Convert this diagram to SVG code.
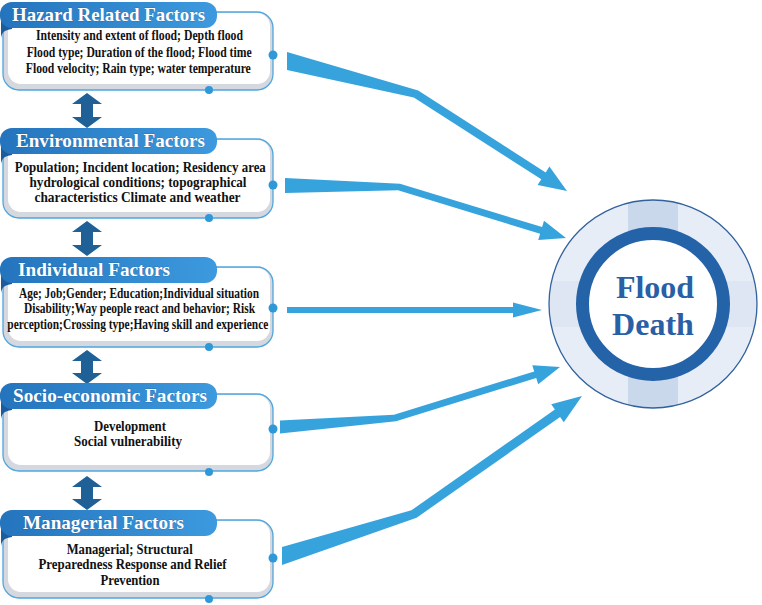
<svg xmlns="http://www.w3.org/2000/svg" width="762" height="605" viewBox="0 0 762 605">
<style>
.border{fill:#d6d8e0;stroke:#4ea6de;stroke-width:1.3}
.inner{fill:#ffffff}
.tab{fill:url(#tabGrad)}
.curl{fill:#1b5c9c}
.title{font-family:"Liberation Serif","Times New Roman",serif;font-weight:bold;font-size:19.5px;fill:#ffffff;stroke:#1d5a92;stroke-width:0.4;paint-order:stroke}
.body{font-family:"Liberation Serif","Times New Roman",serif;font-weight:bold;font-size:13.6px;fill:#111111;text-anchor:middle}
.dot{fill:#2f98d8}
.conn{fill:#37a3dd}
.dbl{fill:#1f6197}
.center{font-family:"Liberation Serif","Times New Roman",serif;font-weight:bold;font-size:32px;fill:#2a5fa5;text-anchor:middle}
</style>
<defs>
<linearGradient id="tabGrad" x1="0" y1="0" x2="1" y2="0">
<stop offset="0" stop-color="#2474bd"/>
<stop offset="1" stop-color="#3d9ade"/>
</linearGradient>
<clipPath id="ringClip"><circle cx="653" cy="304" r="104"/></clipPath>
</defs>
<rect width="762" height="605" fill="#ffffff"/>

<g id="connectors">
<polygon class="conn" points="287,52 418.2,90.6 545.7,172.5 549.4,166.6 567,191 537.6,185.1 541.3,179.3 413.8,97.4 287,70"/>
<polygon class="conn" points="285,178 400,183.7 542.1,227.1 544,220.8 566,238 538.2,240 540.1,233.7 398,190.3 285,193"/>
<polygon class="conn" points="287,307 513,307 513,302.5 542,310 513,317.5 513,313 287,313"/>
<polygon class="conn" points="280,420.5 394,414.7 534.2,371.4 532.3,365.2 560,367 538.2,384.2 536.2,378 396,421.3 280,433.5"/>
<polygon class="conn" points="282,547 411.4,510.3 554.9,409.6 551.2,404.3 582,396 563.8,422.3 560.1,417 416.6,517.7 282,565"/>
<polygon class="dbl" points="87,93 102,104 93,104 93,117 102,117 87,128 72,117 81,117 81,104 72,104"/>
<polygon class="dbl" points="87,221 102,232 93,232 93,245 102,245 87,256 72,245 81,245 81,232 72,232"/>
<polygon class="dbl" points="87,350 102,361 93,361 93,373 102,373 87,384 72,373 81,373 81,361 72,361"/>
<polygon class="dbl" points="87,476 102,487 93,487 93,499 102,499 87,510 72,499 81,499 81,487 72,487"/>
</g>

<g id="hazard">
<rect class="border" x="3" y="12" width="270" height="78" rx="16"/>
<rect class="inner" x="8" y="13" width="262" height="71" rx="13"/>
<path class="curl" d="M1,20 V40 C1,33 4,30 12,29 V20 Z"/>
<rect class="tab" x="0" y="2" width="217" height="26" rx="12"/>
<text class="title" x="12" y="21" textLength="193" lengthAdjust="spacingAndGlyphs">Hazard Related Factors</text>
<text class="body" x="139.5" y="40" textLength="207" lengthAdjust="spacingAndGlyphs">Intensity and extent of flood; Depth flood</text>
<text class="body" x="139.2" y="57" textLength="225" lengthAdjust="spacingAndGlyphs">Flood type; Duration of the flood; Flood time</text>
<text class="body" x="138.3" y="73" textLength="225" lengthAdjust="spacingAndGlyphs">Flood velocity; Rain type; water temperature</text>
<circle class="dot" cx="273" cy="55" r="4.5"/>
<circle class="dot" cx="209" cy="90" r="4"/>
</g>

<g id="environmental">
<rect class="border" x="3" y="139" width="270" height="79" rx="16"/>
<rect class="inner" x="8" y="140" width="262" height="72" rx="13"/>
<path class="curl" d="M1,146 V166 C1,159 4,156 12,155 V146 Z"/>
<rect class="tab" x="0" y="128" width="217" height="26" rx="12"/>
<text class="title" x="16" y="147" textLength="189" lengthAdjust="spacingAndGlyphs">Environmental Factors</text>
<text class="body" x="140.3" y="171.5" textLength="251" lengthAdjust="spacingAndGlyphs">Population; Incident location; Residency area</text>
<text class="body" x="138" y="186.5" textLength="217" lengthAdjust="spacingAndGlyphs">hydrological conditions; topographical</text>
<text class="body" x="137.5" y="202" textLength="206" lengthAdjust="spacingAndGlyphs">characteristics Climate and weather</text>
<circle class="dot" cx="273" cy="185" r="4.5"/>
<circle class="dot" cx="209" cy="218" r="4"/>
</g>

<g id="individual">
<rect class="border" x="3" y="267" width="270" height="80" rx="16"/>
<rect class="inner" x="8" y="268" width="262" height="73" rx="13"/>
<path class="curl" d="M1,275 V295 C1,288 4,285 12,284 V275 Z"/>
<rect class="tab" x="0" y="257" width="217" height="26" rx="12"/>
<text class="title" x="18" y="276" textLength="152" lengthAdjust="spacingAndGlyphs">Individual Factors</text>
<text class="body" x="139" y="297.5" textLength="240" lengthAdjust="spacingAndGlyphs">Age; Job;Gender; Education;Individual situation</text>
<text class="body" x="139.5" y="313" textLength="231" lengthAdjust="spacingAndGlyphs">Disability;Way people react and behavior; Risk</text>
<text class="body" x="137.8" y="328.5" textLength="261" lengthAdjust="spacingAndGlyphs">perception;Crossing type;Having skill and experience</text>
<circle class="dot" cx="273" cy="308" r="4.5"/>
<circle class="dot" cx="209" cy="347" r="4"/>
</g>

<g id="socioeconomic">
<rect class="border" x="3" y="394" width="270" height="77" rx="16"/>
<rect class="inner" x="8" y="395" width="262" height="70" rx="13"/>
<path class="curl" d="M1,401 V421 C1,414 4,411 12,410 V401 Z"/>
<rect class="tab" x="0" y="383" width="217" height="26" rx="12"/>
<text class="title" x="13" y="402" textLength="194" lengthAdjust="spacingAndGlyphs">Socio-economic Factors</text>
<text class="body" x="130" y="431" textLength="72" lengthAdjust="spacingAndGlyphs">Development</text>
<text class="body" x="128" y="445.5" textLength="108" lengthAdjust="spacingAndGlyphs">Social vulnerability</text>
<circle class="dot" cx="273" cy="429" r="4.5"/>
<circle class="dot" cx="209" cy="472" r="4"/>
</g>

<g id="managerial">
<rect class="border" x="3" y="520" width="270" height="78" rx="16"/>
<rect class="inner" x="8" y="521" width="262" height="71" rx="13"/>
<path class="curl" d="M1,528 V548 C1,541 4,538 12,537 V528 Z"/>
<rect class="tab" x="0" y="510" width="217" height="26" rx="12"/>
<text class="title" x="23" y="529" textLength="161" lengthAdjust="spacingAndGlyphs">Managerial Factors</text>
<text class="body" x="129.7" y="554" textLength="126" lengthAdjust="spacingAndGlyphs">Managerial; Structural</text>
<text class="body" x="132.5" y="569" textLength="188" lengthAdjust="spacingAndGlyphs">Preparedness Response and Relief</text>
<text class="body" x="130" y="584.5" textLength="59" lengthAdjust="spacingAndGlyphs">Prevention</text>
<circle class="dot" cx="273" cy="558" r="4.5"/>
<circle class="dot" cx="209" cy="599" r="4"/>
</g>

<g id="flood-death">
<circle cx="653" cy="304" r="104" fill="#e7edf6"/>
<g clip-path="url(#ringClip)">
<rect x="628" y="198" width="50" height="212" fill="#c9d8eb"/>
<rect x="547" y="281" width="212" height="46" fill="#dde6f2"/>
</g>
<circle cx="653" cy="304" r="104" fill="none" stroke="#31629e" stroke-width="1.3"/>
<circle cx="653" cy="304" r="70.5" fill="#ffffff" stroke="#2563a8" stroke-width="13"/>
<text class="center" x="655" y="298">Flood</text>
<text class="center" x="653" y="335">Death</text>
</g>
</svg>
